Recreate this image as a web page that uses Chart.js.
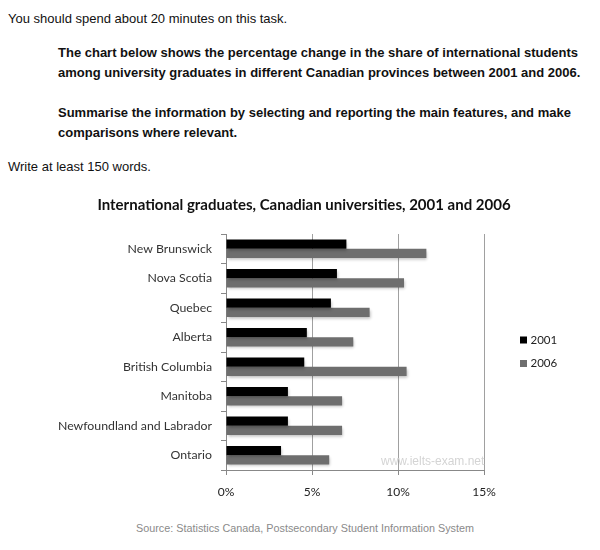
<!DOCTYPE html>
<html>
<head>
<meta charset="utf-8">
<script src="https://cdn.jsdelivr.net/npm/chart.js@4/dist/chart.umd.min.js"></script>
<style>
  body { margin: 0; background: #fff; width: 600px; height: 550px; position: relative; overflow: hidden;
         font-family: "Liberation Sans", Arial, sans-serif; color: #111; }
  .txt { position: absolute; margin: 0; font-size: 13px; line-height: 20px; white-space: nowrap; }
  .bold { font-weight: bold; }
  #wrap { position: absolute; left: 0; top: 190px; width: 600px; height: 310px; }
  #mark { position: absolute; left: 381px; top: 454px; font-size: 12px; color: #d4d4d4; }
  #source { position: absolute; left: 0; width: 610px; top: 522px; text-align: center; font-size: 10.8px; color: #8a8a8a; }
</style>
</head>
<body>
<p class="txt" style="left:8px; top:9px;">You should spend about 20 minutes on this task.</p>
<p class="txt bold" style="left:58px; top:43px;">The chart below shows the percentage change in the share of international students<br>among university graduates in different Canadian provinces between 2001 and 2006.</p>
<p class="txt bold" style="left:58px; top:103px;">Summarise the information by selecting and reporting the main features, and make<br>comparisons where relevant.</p>
<p class="txt" style="left:8px; top:157px;">Write at least 150 words.</p>

<div id="wrap"><canvas id="grafico"></canvas></div>
<div id="mark">www.ielts-exam.net</div>
<div id="source">Source: Statistics Canada, Postsecondary Student Information System</div>

<script>
// datos (%)
const provincias = ["New Brunswick", "Nova Scotia", "Quebec", "Alberta", "British Columbia",
                    "Manitoba", "Newfoundland and Labrador", "Ontario"];
const valores2001 = [7.0, 6.45, 6.1, 4.7, 4.55, 3.6, 3.6, 3.2];
const valores2006 = [11.65, 10.35, 8.35, 7.4, 10.5, 6.75, 6.75, 6.0];
const ticksX = [0, 5, 10, 15];

const fuente = "Lato, 'Noto Sans', sans-serif";

// leyenda dibujada a mano a la derecha
const leyenda = {
    id: "leyenda",
    afterDraw(chart) {
        const ctx = chart.ctx;
        ctx.save();
        ctx.font = "11.5px " + fuente;
        ctx.textBaseline = "middle";
        chart.data.datasets.forEach((ds, i) => {
            const y = 150 + i * 23.5;
            ctx.fillStyle = ds.backgroundColor;
            ctx.fillRect(520, y - 3.5, 7, 7);
            ctx.fillStyle = "#222";
            ctx.fillText(ds.label, 530.5, y);
        });
        ctx.restore();
    }
};

// titulo centrado sobre todo el ancho, no solo el area del grafico
const centrarTitulo = {
    id: "centrarTitulo",
    afterLayout(chart) {
        if (chart.titleBlock) {
            chart.titleBlock.left = 8;
            chart.titleBlock.right = 600;
        }
    }
};

// sombra suave bajo las barras
const sombra = {
    id: "sombra",
    beforeDatasetsDraw(chart) {
        const ctx = chart.ctx;
        ctx.save();
        ctx.shadowColor = "rgba(0,0,0,0.28)";
        ctx.shadowBlur = 3;
        ctx.shadowOffsetX = 1;
        ctx.shadowOffsetY = 2;
    },
    afterDatasetsDraw(chart) {
        chart.ctx.restore();
    }
};

new Chart(document.getElementById("grafico"), {
    type: "bar",
    data: {
        labels: provincias,
        datasets: [
            { label: "2001", data: valores2001, backgroundColor: "#000000" },
            { label: "2006", data: valores2006, backgroundColor: "#6e6e6e" }
        ]
    },
    options: {
        indexAxis: "y",
        responsive: true,
        maintainAspectRatio: false,
        animation: false,
        categoryPercentage: 0.62,
        barPercentage: 1.0,
        layout: { padding: { left: 0, right: 116, top: 0, bottom: 0 } },
        plugins: {
            legend: { display: false },
            tooltip: { enabled: false },
            title: {
                display: true,
                text: "International graduates, Canadian universities, 2001 and 2006",
                color: "#111",
                font: { family: fuente, size: 15, weight: "bold" },
                padding: { top: 6, bottom: 20 }
            }
        },
        scales: {
            x: {
                min: 0,
                max: 15,
                afterBuildTicks: s => { s.ticks = ticksX.map(v => ({ value: v })); },
                afterFit: s => { s.height = 30; },
                grid: { color: "#a0a0a0", lineWidth: 1, tickLength: 5, tickColor: "#888" },
                border: { display: true, color: "#888" },
                ticks: {
                    padding: 10,
                    color: "#222",
                    font: { family: fuente, size: 12 },
                    callback: v => v + "%"
                }
            },
            y: {
                afterFit: s => { s.width = 226; },
                grid: { drawOnChartArea: false, tickLength: 5, tickColor: "#888", offset: true },
                border: { display: true, color: "#888" },
                ticks: {
                    padding: 9,
                    color: "#333",
                    font: { family: fuente, size: 12.3 }
                }
            }
        }
    },
    plugins: [sombra, centrarTitulo, leyenda]
});
</script>
</body>
</html>
